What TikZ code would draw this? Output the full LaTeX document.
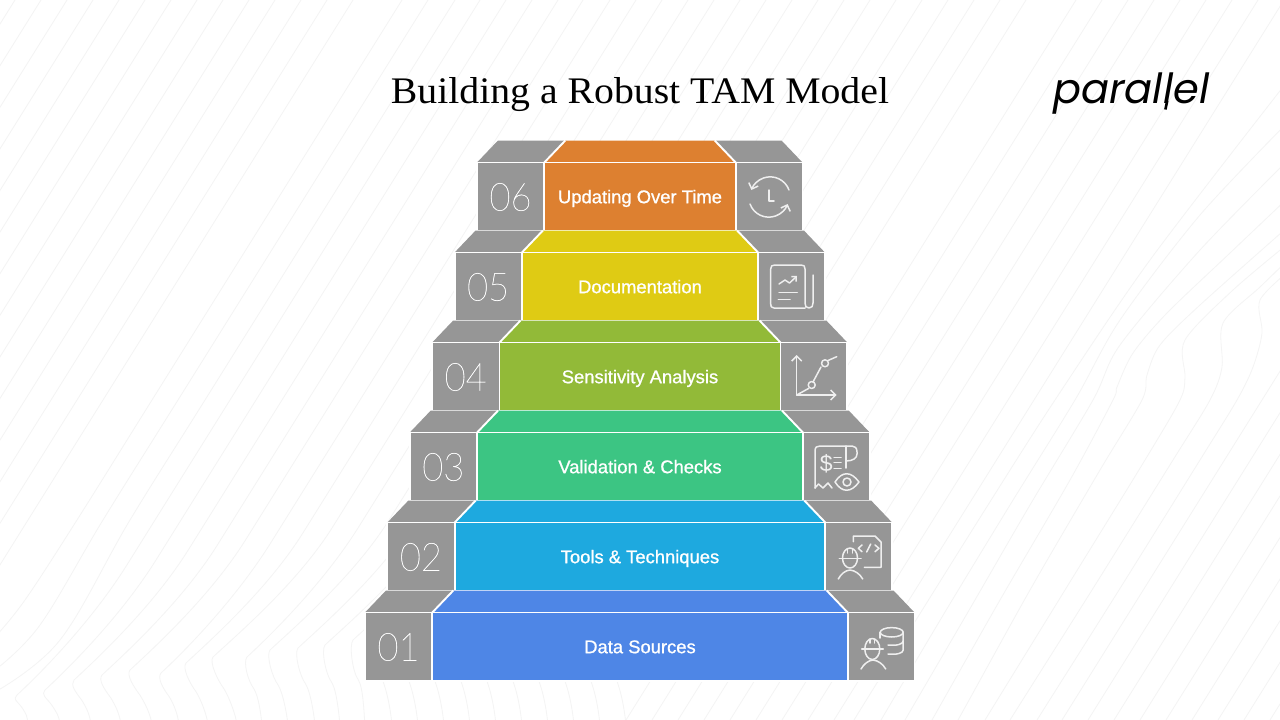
\documentclass[tikz,border=0pt]{standalone}
\usepackage{fontspec}
\usetikzlibrary{arrows.meta}
\setmainfont{Liberation Sans}
\newfontfamily\titlefont[FakeStretch=1.06]{Liberation Serif}
\newfontfamily\labelfont[FakeBold=0.9]{Liberation Sans}
\newfontfamily\numfont[FakeStretch=0.93,FakeBold=0.5]{Lato Thin}
\newfontfamily\logofont{Poppins Italic}
\definecolor{stepgray}{HTML}{969696}
\definecolor{bgline}{HTML}{F4F4F4}
\definecolor{iconline}{HTML}{EFEFEF}
\definecolor{c0}{HTML}{DD8030}
\definecolor{c1}{HTML}{DFCB14}
\definecolor{c2}{HTML}{92BA38}
\definecolor{c3}{HTML}{3CC583}
\definecolor{c4}{HTML}{1EA9DF}
\definecolor{c5}{HTML}{4E86E6}
\tikzset{
  bg/.style={draw=bgline,line width=0.8pt},
  panel/.style={draw=white,line width=1.9pt,line join=miter},
  icon/.style={draw=iconline,line width=1.5pt,line cap=round,line join=round},
  steplabel/.style={text=white,font=\labelfont\fontsize{18.4}{20}\selectfont,inner sep=0pt,anchor=base},
  stepnum/.style={text=white,font=\numfont\fontsize{39}{40}\selectfont,inner sep=0pt},
  barb/.style={-{Straight Barb[length=5pt,width=10pt,line width=1.5pt]}}
}
\begin{document}
\begin{tikzpicture}[x=1pt,y=-1pt]
\useasboundingbox (0,0) rectangle (1280,720);
\fill[white] (0,0) rectangle (1280,720);
\begin{scope}
\clip (0,0) rectangle (1280,720);
% straight background lines
\foreach \c in {15,41,...,378} {\draw[bg] (\c,0) -- ({\c-0.625*700},700);}
\foreach \c in {818,844,...,1050} {\draw[bg] (\c,0) -- (640,{(\c-640)/0.625});}
\foreach \c in {1076,1102,...,1290} {\draw[bg] (\c,0) -- ({\c-0.625*730},730);}
\foreach \c in {1512,1538,...,1760} {\draw[bg] (\c,0) -- ({\c-0.625*730},730);}
% left exit lines
\draw[bg] plot[smooth,tension=.6] coordinates {(402,0)(277,200)(152,400)(77,520)(25,600)(-5,637)};
\draw[bg] plot[smooth,tension=.6] coordinates {(428,0)(303,200)(178,400)(103,520)(40,625)(-5,670)};
\draw[bg] plot[smooth,tension=.6] coordinates {(455,0)(330,200)(205,400)(130,520)(60,640)(-5,692)};
% waves, bottom left
\foreach \xz/\tx/\ty/\ex in {230/17/695/28,256/45/690/60,282/74/680/91,308/102/675/121,333/130/670/152,360/161/673/179,386/186/663/208,412/213/657/237,438/247/657/262,464/270/650/288,490/298/648/315,516/325/645/340,542/353/640/365}{
  \pgfmathsetmacro{\ay}{\ty-130}
  \pgfmathsetmacro{\ax}{\xz-0.625*(\ay-400)}
  \pgfmathsetmacro{\topx}{\xz+250}
  \pgfmathsetmacro{\bx}{\tx+(\ex-\tx)*0.45}
  \pgfmathsetmacro{\by}{\ty+(720-\ty)*0.5}
  \draw[bg] (\topx,0) -- (\ax,\ay)
     .. controls ({\ax-0.625*55},{\ay+55}) and ({\tx+26},{\ty-24}) .. (\tx,\ty)
     .. controls ({\tx-4},{\ty+5}) and ({\bx-6},{\by-8}) .. (\bx,\by)
     .. controls ({\bx+5},{\by+8}) and ({\ex-1},{715}) .. (\ex,725);
}
\foreach \ex in {392,418,...,640} {\draw[bg] ({\ex-14},670) .. controls ({\ex-6},685) and ({\ex-2},705) .. (\ex,725);}
% waves, right
\draw[bg] plot[smooth,tension=.5] coordinates {(1290,270)(1260,300)(1262,333)(1253,367)(1237,400)(1200,460)(1119,590)(1037,720)(1030,732)};
\draw[bg] plot[smooth,tension=.5] coordinates {(1290,258)(1260,287)(1223,323)(1222,367)(1210,400)(1173,460)(1092,590)(1010,720)(1003,732)};
\draw[bg] plot[smooth,tension=.5] coordinates {(1290,242)(1233,290)(1185,340)(1185,377)(1180,400)(1145,460)(1065,590)(985,720)(978,732)};
\draw[bg] plot[smooth,tension=.5] coordinates {(1290,225)(1200,305)(1160,345)(1147,375)(1142,400)(1100,470)(1030,590)(958,720)(950,732)};
\draw[bg] plot[smooth,tension=.5] coordinates {(1290,196)(1230,253)(1167,313)(1133,353)(1117,387)(1113,400)(1070,480)(1000,600)(932,720)(925,732)};
\draw[bg] plot[smooth,tension=.5] coordinates {(1290,158)(1200,250)(1120,345)(1093,400)(1030,505)(968,612)(905,720)(898,732)};
\draw[bg] plot[smooth,tension=.5] coordinates {(1290,120)(1200,215)(1120,320)(1075,400)(1010,505)(945,612)(881,720)(874,732)};
\draw[bg] plot[smooth,tension=.5] coordinates {(1290,78)(1150,260)(1055,400)(988,505)(921,612)(854,720)(847,732)};
\end{scope}
% title and logo
\node[inner sep=0pt,anchor=base,text=black,font=\titlefont\fontsize{37.5}{40}\selectfont] (title) at (640,103) {Building a Robust TAM Model};
\node[inner sep=0pt,anchor=base west,text=black,font=\logofont\fontsize{41.5}{44}\selectfont] (logo) at (1053,103) {parallel};
\draw[black,line width=2.6pt] (1167.2,101) -- (1165.4,109.5);
% steps
\foreach \i/\lab/\num in {0/Updating Over Time/06,1/Documentation/05,2/Sensitivity Analysis/04,3/Validation \& Checks/03,4/Tools \& Techniques/02,5/Data Sources/01}{
  \pgfmathsetmacro{\L}{477-22.4*\i}
  \pgfmathsetmacro{\IL}{544.3-22.4*\i}
  \pgfmathsetmacro{\IR}{735.7+22.4*\i}
  \pgfmathsetmacro{\R}{802.5+22.4*\i}
  \pgfmathsetmacro{\tt}{140.5+90*\i}
  \pgfmathsetmacro{\yt}{162.5+90*\i}
  \pgfmathsetmacro{\yb}{230.8+90*\i}
  \pgfmathsetmacro{\ym}{197+90*\i}
  \pgfmathsetmacro{\yl}{203.2+90*\i}
  \pgfmathsetmacro{\nx}{510.5-22.4*\i}
  \fill[stepgray] (\L,\yt) -- ({\L+21},\tt) -- ({\IL+21},\tt) -- (\IL,\yt) -- cycle;
  \fill[stepgray] (\IR,\yt) -- ({\IR-21},\tt) -- ({\R-21},\tt) -- (\R,\yt) -- cycle;
  \fill[c\i] (\IL,\yt) -- ({\IL+21},\tt) -- ({\IR-21},\tt) -- (\IR,\yt) -- cycle;
  \draw[panel] ({\IL+21},\tt) -- (\IL,\yt);
  \draw[panel] ({\IR-21},\tt) -- (\IR,\yt);
  \draw[panel,fill=stepgray] (\L,\yt) rectangle (\IL,\yb);
  \draw[panel,fill=stepgray] (\IR,\yt) rectangle (\R,\yb);
  \draw[panel,fill=c\i] (\IL,\yt) rectangle (\IR,\yb);
  \node[steplabel] (label\i) at (640,\yl) {\lab};
  \node[stepnum] (num\i) at (\nx,\ym) {\num};
}
% icon 06 clock
\draw[icon,barb] (789,190) arc[start angle=340,end angle=200,radius=20];
\draw[icon,barb] (750,204) arc[start angle=160,end angle=20,radius=20];
\draw[icon] (769,190) -- (769,201) -- (774,201);
% icon 05 document
\draw[icon] (805,308) -- (774,308) .. controls (771,308) and (770.7,306) .. (770.7,304) -- (770.7,269) .. controls (770.7,266) and (772,265) .. (775,265) -- (801,265) .. controls (804,265) and (805,266) .. (805,269) -- (805,303) .. controls (805,306) and (806,308) .. (809,308) .. controls (812,308) and (813,306) .. (813,303) -- (813,275);
\draw[icon,-{Straight Barb[length=3.5pt,width=7pt]}] (779,284) -- (785,280) -- (789.5,283) -- (797,276);
\draw[icon] (779,292.3) -- (797.3,292.3);
\draw[icon] (778.3,299.3) -- (790,299.3);
% icon 04 chart
\draw[icon,barb] (796.7,395) -- (796.7,355);
\draw[icon,barb] (796.7,395) -- (836.7,395);
\draw[icon] (796.7,395) -- (808.5,388.5);
\draw[icon] (813,382) -- (821,367);
\draw[icon] (828,360.5) -- (836.7,356.7);
\draw[icon] (811.7,385) circle[radius=3.5];
\draw[icon] (825,363.3) circle[radius=3.5];
% icon 03 receipt and eye
\draw[icon] (815,488) -- (815,451) .. controls (815,447) and (817,446) .. (820,446) -- (852,446) .. controls (855,446) and (857,448) .. (857,452) -- (857,454) .. controls (857,458) and (853,461) .. (846,461);
\draw[icon] (846,468) -- (846,446);
\draw[icon] (815,488) -- (818.5,484) -- (823,488) -- (828,483) -- (832,488);
\node[text=iconline,inner sep=0pt,font=\fontsize{23}{24}\selectfont] (dollar) at (826.3,463.5) {\$};
\draw[icon] (834,457.5) -- (841,457.5) (834,462.5) -- (841,462.5) (834,468.5) -- (841,468.5);
\draw[icon] (835,482) .. controls (842,471) and (851,471) .. (859,482) .. controls (851,493) and (842,493) .. (835,482) -- cycle;
\draw[icon] (847,482) circle[radius=4];
% icon 02 worker and code
\draw[icon] (853.3,541.7) -- (853.3,536) -- (875,536) -- (881,542) -- (881,567.3) -- (864.3,567.3);
\draw[icon] (862,545) -- (858.3,548.3) -- (862,551.7);
\draw[icon] (870.7,544) -- (866.7,552);
\draw[icon] (875,545) -- (879,548.3) -- (875,551.7);
\draw[icon] (850,558) ellipse[x radius=7.5,y radius=10];
\draw[icon] (839.3,558.3) -- (861,558.3);
\draw[icon] (847.7,549) -- (847.7,553) (852.3,549) -- (852.3,553);
\draw[icon] (838.3,579) .. controls (841,574) and (845,570.5) .. (850,570) .. controls (855,570.5) and (860,574) .. (862.7,579);
% icon 01 worker and database
\draw[icon] (872.3,649) ellipse[x radius=7.5,y radius=10.5];
\draw[icon] (861.7,649) -- (883.3,649);
\draw[icon] (870,639) -- (870,643) (874.6,639) -- (874.6,643);
\draw[icon] (861,669) .. controls (864,664) and (868,660.5) .. (873,660) .. controls (878,660.5) and (883,664) .. (885.7,669);
\draw[icon] (891.7,632.3) ellipse[x radius=11.5,y radius=4.7];
\draw[icon] (880.2,632.3) -- (880.2,638);
\draw[icon] (903.2,632.3) -- (903.2,650) .. controls (903.2,653) and (897,655) .. (888,654);
\draw[icon] (903.2,641) .. controls (903.2,644) and (897,646) .. (888,645);
\end{tikzpicture}
\end{document}
